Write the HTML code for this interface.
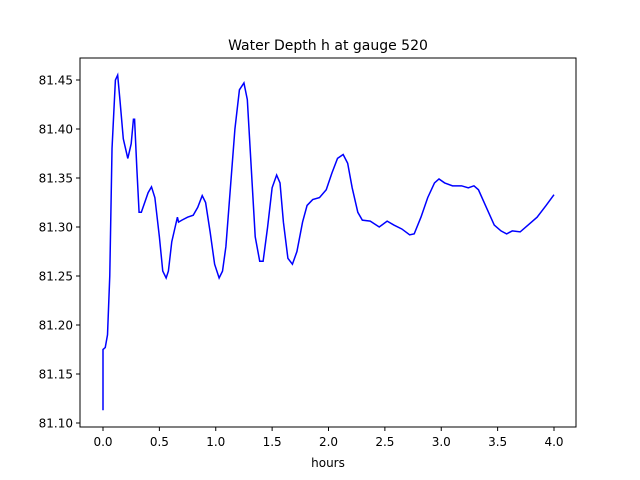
<!DOCTYPE html>
<html><head><meta charset="utf-8"><style>
body{margin:0;background:#fff;}
svg{display:block;font-family:"DejaVu Sans","Liberation Sans",sans-serif;}
</style></head><body>
<svg id="chart" width="640" height="480">
<rect width="640" height="480" fill="#fff"/>
<text x="328" y="50" text-anchor="middle" font-size="14">Water Depth h at gauge 520</text>
<g id="ticks"></g>
<polyline id="line" fill="none" stroke="#0000ff" stroke-width="1.5"/>
<rect x="80" y="58" width="496" height="369" fill="none" stroke="#000" stroke-width="1"/>
<text x="328" y="467" text-anchor="middle" font-size="12">hours</text>
</svg>
<script>
const times=[0,0,0.02,0.04,0.06,0.08,0.11,0.13,0.15,0.18,0.22,0.25,0.27,0.28,0.30,0.32,0.34,0.37,0.40,0.43,0.46,0.50,0.53,0.56,0.58,0.61,0.64,0.66,0.67,0.70,0.75,0.80,0.84,0.88,0.91,0.95,0.99,1.03,1.06,1.09,1.13,1.17,1.21,1.25,1.28,1.31,1.35,1.39,1.42,1.46,1.50,1.54,1.57,1.60,1.64,1.68,1.72,1.77,1.81,1.86,1.92,1.98,2.03,2.08,2.13,2.17,2.21,2.26,2.30,2.37,2.45,2.52,2.58,2.65,2.72,2.76,2.82,2.88,2.94,2.98,3.03,3.10,3.18,3.24,3.29,3.33,3.40,3.47,3.53,3.58,3.63,3.70,3.77,3.85,3.93,4.0];
const depths=[81.113,81.175,81.177,81.19,81.25,81.38,81.45,81.455,81.43,81.39,81.37,81.385,81.41,81.41,81.36,81.315,81.315,81.325,81.335,81.341,81.33,81.29,81.255,81.248,81.255,81.285,81.30,81.31,81.305,81.307,81.31,81.312,81.32,81.332,81.325,81.295,81.262,81.248,81.255,81.28,81.34,81.40,81.44,81.447,81.43,81.37,81.29,81.265,81.265,81.30,81.34,81.353,81.345,81.305,81.268,81.262,81.275,81.305,81.322,81.328,81.33,81.338,81.355,81.37,81.374,81.365,81.34,81.315,81.307,81.306,81.30,81.306,81.302,81.298,81.292,81.293,81.31,81.33,81.345,81.349,81.345,81.342,81.342,81.340,81.342,81.338,81.32,81.302,81.296,81.293,81.296,81.295,81.302,81.31,81.322,81.333];
const xTicks=[0,0.5,1,1.5,2,2.5,3,3.5,4];
const yTicks=[81.10,81.15,81.20,81.25,81.30,81.35,81.40,81.45];
function xs(t){return 103+t*112.75;}
function ys(v){return 423-(v-81.10)*980;}
const NS="http://www.w3.org/2000/svg";
const g=document.getElementById('ticks');
xTicks.forEach(t=>{
 const l=document.createElementNS(NS,'line');
 l.setAttribute('x1',xs(t));l.setAttribute('x2',xs(t));l.setAttribute('y1',427);l.setAttribute('y2',431);l.setAttribute('stroke','#000');
 
 
 g.appendChild(l);
 const tx=document.createElementNS(NS,'text');
 tx.setAttribute('x',xs(t));tx.setAttribute('y',446);tx.setAttribute('text-anchor','middle');tx.setAttribute('font-size','12');
 tx.textContent=t.toFixed(1);
 
 
 g.appendChild(tx);
});
yTicks.forEach(v=>{
 const l=document.createElementNS(NS,'line');
 l.setAttribute('x1',76);l.setAttribute('x2',80);l.setAttribute('y1',ys(v));l.setAttribute('y2',ys(v));l.setAttribute('stroke','#000');
 
 
 g.appendChild(l);
 const tx=document.createElementNS(NS,'text');
 tx.setAttribute('x',73);tx.setAttribute('y',ys(v)+4.5);tx.setAttribute('text-anchor','end');tx.setAttribute('font-size','12');
 tx.textContent=v.toFixed(2);
 
 
 g.appendChild(tx);
});
document.getElementById('line').setAttribute('points',times.map((t,i)=>xs(t)+','+ys(depths[i])).join(' '));
</script>
</body></html>
